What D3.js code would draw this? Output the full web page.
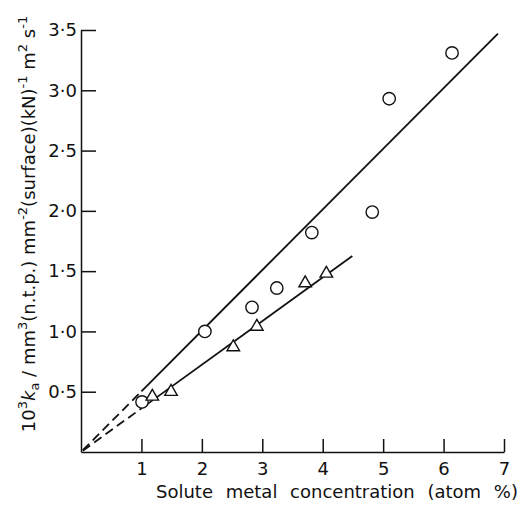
<!DOCTYPE html>
<html>
<head>
<meta charset="utf-8">
<script src="https://cdn.jsdelivr.net/npm/d3@7"></script>
<style>
  body { margin: 0; background: #fff; }
  text { font-family: "DejaVu Sans", sans-serif; fill: #111; }
</style>
</head>
<body>
<div id="chart"></div>
<script>
// Define height & width of svg (whole graph)
var svgWidth = 521;
var svgHeight = 506;

// Data
var circleX = [1.01, 2.05, 2.83, 3.24, 3.82, 4.82, 5.10, 6.14];
var circleY = [0.415, 1.00, 1.20, 1.36, 1.82, 1.99, 2.93, 3.31];
var triangleX = [1.18, 1.49, 2.52, 2.91, 3.71, 4.06];
var triangleY = [0.46, 0.50, 0.87, 1.04, 1.40, 1.48];

// Fitted lines through the origin: slope, end of dashed part, end of solid part
var fitSlopes = [0.503, 0.362];
var fitDashEnd = [1.0, 1.08];
var fitSolidEnd = [6.9, 4.49];

var xTicks = [1, 2, 3, 4, 5, 6, 7];
var yTicks = [0.5, 1.0, 1.5, 2.0, 2.5, 3.0, 3.5];

// Plot area edges
var x0 = 81, x1 = 504;
var y0 = 452, y1 = 30;

var svg = d3.select("#chart")
    .append("svg")
    .attr("width", svgWidth)
    .attr("height", svgHeight);

var xScale = d3.scaleLinear().domain([0, 7]).range([x0, x1]);
var yScale = d3.scaleLinear().domain([0, 3.5]).range([y0, y1]);

var fmt = d => d3.format(".1f")(d).replace(".", "\u00b7");

// Axes with inward ticks
var bottomAxis = d3.axisBottom(xScale)
    .tickValues(xTicks)
    .tickSizeInner(-13)
    .tickSizeOuter(0)
    .tickPadding(10)
    .tickFormat(d3.format("d"));

var leftAxis = d3.axisLeft(yScale)
    .tickValues(yTicks)
    .tickSizeInner(-15)
    .tickSizeOuter(0)
    .tickPadding(4)
    .tickFormat(fmt);

var gx = svg.append("g")
    .attr("transform", `translate(0, ${y0})`)
    .call(bottomAxis);

var gy = svg.append("g")
    .attr("transform", `translate(${x0}, 0)`)
    .call(leftAxis);

[gx, gy].forEach(g => {
    g.selectAll("path, line").attr("stroke", "#111").attr("stroke-width", 1.5);
    g.selectAll("text")
        .attr("font-family", "DejaVu Sans, sans-serif")
        .attr("font-size", 18)
        .attr("fill", "#111");
});

// Fitted lines: dashed near origin, solid beyond
var line = d3.line().x(d => xScale(d[0])).y(d => yScale(d[1]));

fitSlopes.forEach((m, i) => {
    svg.append("path")
        .attr("d", line([[0.03, 0.03 * m], [fitDashEnd[i], fitDashEnd[i] * m]]))
        .attr("fill", "none")
        .attr("stroke", "#111")
        .attr("stroke-width", 1.8)
        .attr("stroke-dasharray", "9,5");
    svg.append("path")
        .attr("d", line([[fitDashEnd[i], fitDashEnd[i] * m], [fitSolidEnd[i], fitSolidEnd[i] * m]]))
        .attr("fill", "none")
        .attr("stroke", "#111")
        .attr("stroke-width", 1.8);
});

// Circles
svg.selectAll("circle")
    .data(circleX)
    .enter()
    .append("circle")
    .attr("cx", d => xScale(d))
    .attr("cy", (d, i) => yScale(circleY[i]))
    .attr("r", 6.2)
    .attr("fill", "#fff")
    .attr("stroke", "#111")
    .attr("stroke-width", 1.4);

// Triangles
svg.selectAll(".tri")
    .data(triangleX)
    .enter()
    .append("path")
    .attr("class", "tri")
    .attr("d", d3.symbol().type(d3.symbolTriangle).size(68))
    .attr("transform", (d, i) => `translate(${xScale(d)}, ${yScale(triangleY[i])})`)
    .attr("fill", "#fff")
    .attr("stroke", "#111")
    .attr("stroke-width", 1.4);

// Axis labels
svg.append("text")
    .attr("x", 337)
    .attr("y", 498)
    .attr("text-anchor", "middle")
    .attr("font-size", 18)
    .attr("word-spacing", 7)
    .text("Solute metal concentration (atom %)");

var yLabel = svg.append("text")
    .attr("transform", "translate(35, 224) rotate(-90)")
    .attr("text-anchor", "middle")
    .attr("font-size", 18);

yLabel.append("tspan").text("10");
yLabel.append("tspan").attr("dy", -8).attr("font-size", 13).text("3");
yLabel.append("tspan").attr("dy", 8).attr("font-style", "italic").text("k");
yLabel.append("tspan").attr("dy", 4).attr("font-size", 13).text("a");
yLabel.append("tspan").attr("dy", -4).text(" / mm");
yLabel.append("tspan").attr("dy", -8).attr("font-size", 13).text("3");
yLabel.append("tspan").attr("dy", 8).text("(n.t.p.) mm");
yLabel.append("tspan").attr("dy", -8).attr("font-size", 13).text("-2");
yLabel.append("tspan").attr("dy", 8).text("(surface)(kN)");
yLabel.append("tspan").attr("dy", -8).attr("font-size", 13).text("-1");
yLabel.append("tspan").attr("dy", 8).text(" m");
yLabel.append("tspan").attr("dy", -8).attr("font-size", 13).text("2");
yLabel.append("tspan").attr("dy", 8).text(" s");
yLabel.append("tspan").attr("dy", -8).attr("font-size", 13).text("-1");
</script>
</body>
</html>
